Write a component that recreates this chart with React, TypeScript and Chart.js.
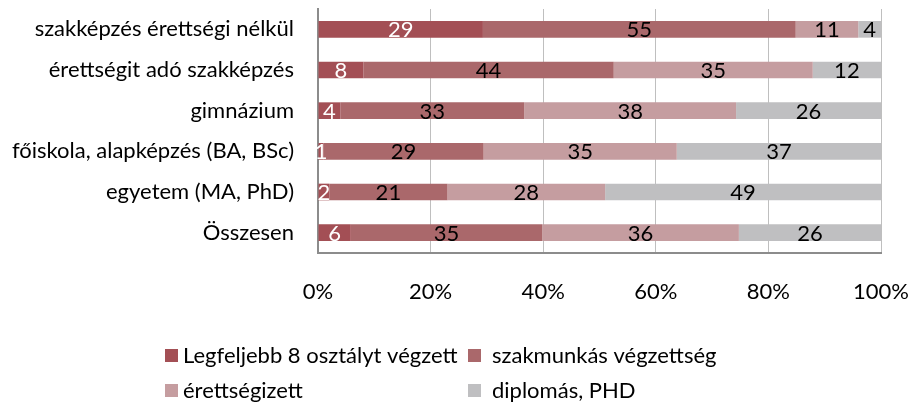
import React, { useEffect, useRef } from "react";
import { Chart, registerables } from "chart.js";

Chart.register(...registerables);

const categories = [
  "szakképzés érettségi nélkül",
  "érettségit adó szakképzés",
  "gimnázium",
  "főiskola, alapképzés (BA, BSc)",
  "egyetem (MA, PhD)",
  "Összesen",
];

const seriesNames = [
  "Legfeljebb 8 osztályt végzett",
  "szakmunkás végzettség",
  "érettségizett",
  "diplomás, PHD",
];

const legfeljebb8 = [29, 8, 4, 1, 2, 6];
const szakmunkas = [55, 44, 33, 29, 21, 35];
const erettsegizett = [11, 35, 38, 35, 28, 36];
const diplomas = [4, 12, 26, 37, 49, 26];

const xTicks = [0, 20, 40, 60, 80, 100];

const colors = ["#A34F55", "#AA686B", "#C59DA0", "#BFBFC1"];
const labelColors = ["#FFFFFF", "#000000", "#000000", "#000000"];

const FONT = "Lato, 'Open Sans', sans-serif";
const FS = 22;

export default function App() {
  const ref = useRef<HTMLCanvasElement | null>(null);

  useEffect(() => {
    let chart: Chart | null = null;
    let cancelled = false;

    const raw = [legfeljebb8, szakmunkas, erettsegizett, diplomas];
    const totals = categories.map((_, i) => raw.reduce((s, a) => s + a[i], 0));
    const pct = raw.map((arr) => arr.map((v, i) => (v / totals[i]) * 100));

    const dataLabels = {
      id: "dataLabels",
      afterDatasetsDraw(c: any) {
        const ctx = c.ctx;
        ctx.save();
        ctx.font = `${FS}px ${FONT}`;
        ctx.textAlign = "center";
        ctx.textBaseline = "middle";
        c.data.datasets.forEach((ds: any, di: number) => {
          const meta = c.getDatasetMeta(di);
          meta.data.forEach((el: any, i: number) => {
            const v = raw[di][i];
            if (!v) return;
            const p = el.getProps(["x", "base", "y"], true);
            ctx.fillStyle = labelColors[di];
            ctx.fillText(String(v), (p.x + p.base) / 2, p.y + 1);
          });
        });
        ctx.restore();
      },
    };

    const gridLegend = {
      id: "gridLegend",
      afterDraw(c: any) {
        const ctx = c.ctx;
        ctx.save();
        ctx.font = `${FS}px ${FONT}`;
        ctx.textAlign = "left";
        ctx.textBaseline = "middle";
        const colX = [165, 468];
        const rowY = [355, 390];
        const gaps = [18, 24];
        c.data.datasets.forEach((ds: any, i: number) => {
          const col = i % 2;
          const row = Math.floor(i / 2);
          const x = colX[col];
          const y = rowY[row];
          ctx.fillStyle = ds.backgroundColor;
          ctx.fillRect(x, y - 6, 13, 13);
          ctx.fillStyle = "#000000";
          ctx.fillText(ds.label, x + gaps[col], y + 1);
        });
        ctx.restore();
      },
    };

    const make = () => {
      if (cancelled || !ref.current) return;
      chart = new Chart(ref.current, {
        type: "bar",
        data: {
          labels: categories,
          datasets: seriesNames.map((name, i) => ({
            label: name,
            data: pct[i],
            backgroundColor: colors[i],
            borderWidth: 0,
            barPercentage: 1,
            categoryPercentage: 0.41,
          })),
        },
        options: {
          indexAxis: "y",
          responsive: false,
          animation: false,
          layout: { padding: { top: 9, right: 30, left: 0, bottom: 0 } },
          plugins: {
            legend: { display: false },
            tooltip: { enabled: false },
          },
          scales: {
            x: {
              stacked: true,
              min: 0,
              max: 100,
              afterBuildTicks: (scale: any) => {
                scale.ticks = xTicks.map((v) => ({ value: v }));
              },
              afterFit: (scale: any) => {
                scale.height = 152;
                scale.paddingLeft = 0;
                scale.paddingRight = 0;
              },
              ticks: {
                callback: (v: any) => `${v}%`,
                font: { family: FONT, size: FS },
                color: "#000000",
                padding: 26,
                maxRotation: 0,
              },
              grid: { color: "#BFBFBF", lineWidth: 1, drawTicks: false },
              border: { display: true, color: "#8C8C8C", width: 2 },
            },
            y: {
              stacked: true,
              afterFit: (scale: any) => {
                scale.width = 318;
                scale.paddingTop = 0;
                scale.paddingBottom = 0;
              },
              ticks: {
                font: { family: FONT, size: FS },
                color: "#000000",
                padding: 24,
              },
              grid: { display: false, drawTicks: false },
              border: { display: true, color: "#8C8C8C", width: 2 },
            },
          },
        },
        plugins: [dataLabels, gridLegend],
      } as any);
    };

    const fontsApi = (document as any).fonts;
    if (fontsApi && fontsApi.load) {
      fontsApi.load(`${FS}px Lato`).then(make, make);
    } else {
      make();
    }

    return () => {
      cancelled = true;
      if (chart) chart.destroy();
    };
  }, []);

  return (
    <div
      style={{
        position: "absolute",
        left: 0,
        top: 0,
        width: 911,
        height: 405,
        background: "#FFFFFF",
      }}
    >
      <canvas
        ref={ref}
        width={911}
        height={405}
        style={{ display: "block", width: 911, height: 405 }}
      />
    </div>
  );
}
